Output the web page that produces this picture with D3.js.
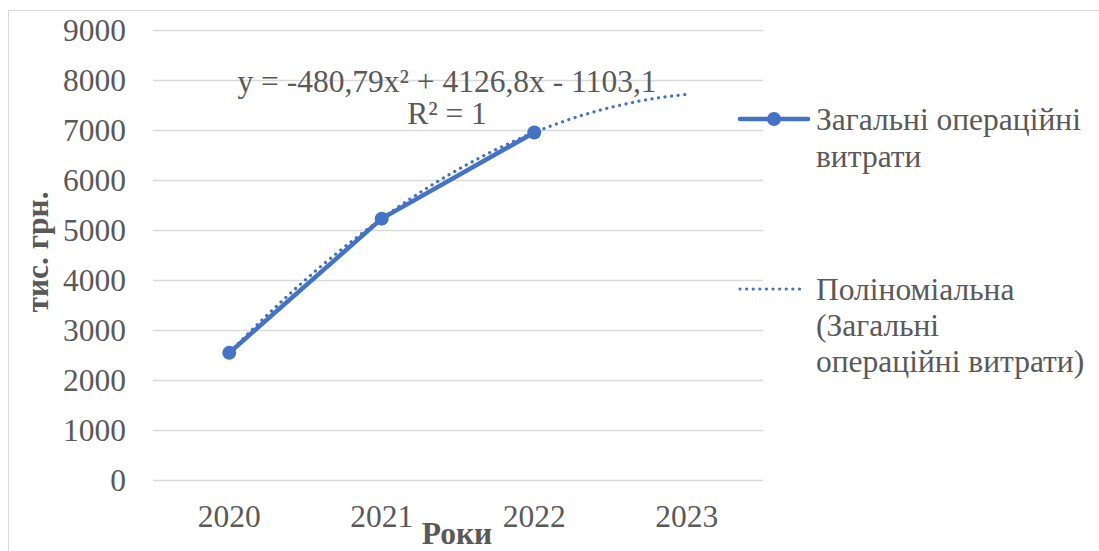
<!DOCTYPE html>
<html>
<head>
<meta charset="utf-8">
<script src="https://cdn.jsdelivr.net/npm/d3@7"></script>
<style>
  html, body { margin: 0; padding: 0; background: #fff; }
  svg { display: block; }
</style>
</head>
<body>
<svg id="chart" width="1099" height="551"></svg>
<script>
// Operating costs by year, thousand UAH
const years = ["2020", "2021", "2022", "2023"];
const costYears = ["2020", "2021", "2022"];
const costValues = [2543, 5227, 6950];
const yTicks = [0, 1000, 2000, 3000, 4000, 5000, 6000, 7000, 8000, 9000];
// Second-order polynomial trend: a*x^2 + b*x + c, x = 1..4
const trendCoef = [-480.79, 4126.8, -1103.1];
const trendLabel = "y = -480,79x² + 4126,8x - 1103,1";
const r2Label = "R² = 1";
const seriesName = ["Загальні операційні", "витрати"];
const trendName = ["Поліноміальна", "(Загальні", "операційні витрати)"];

const FONT = "'Liberation Serif', 'Times New Roman', serif";
const TXT = "#595959";
const FS = 31.5;
const svg = d3.select("#chart");
const blue = "#4472C4";

function label(sel) {
  return sel.style("font-family", FONT).attr("fill", TXT).attr("font-size", FS);
}

// chart area frame
svg.append("rect").attr("x", 8.5).attr("y", 10.5).attr("width", 1200).attr("height", 700)
  .attr("fill", "none").attr("stroke", "#d9d9d9").attr("stroke-width", 1);

const plot = { left: 153, right: 763, top: 30, bottom: 480 };

const x = d3.scaleBand().domain(years).range([plot.left, plot.right]);
const y = d3.scaleLinear().domain([0, 9000]).range([plot.bottom, plot.top]);

// gridlines
svg.append("g").selectAll("line").data(yTicks).join("line")
  .attr("x1", plot.left).attr("x2", plot.right)
  .attr("y1", d => Math.round(y(d)) + 0.5).attr("y2", d => Math.round(y(d)) + 0.5)
  .attr("stroke", "#d9d9d9").attr("stroke-width", 1.3);

// y axis labels
const yAxis = svg.append("g").attr("transform", `translate(${plot.left - 27},0)`)
  .call(d3.axisLeft(y).tickValues(yTicks).tickFormat(d3.format("d")).tickSize(0).tickPadding(0));
yAxis.attr("font-family", null);
yAxis.select(".domain").remove();
label(yAxis.selectAll("text")).attr("dy", "0.34em");

// x axis labels
const xAxis = svg.append("g").attr("transform", `translate(0,${plot.bottom})`)
  .call(d3.axisBottom(x).tickSize(0).tickPadding(0));
xAxis.attr("font-family", null);
xAxis.select(".domain").remove();
label(xAxis.selectAll("text")).attr("y", 47).attr("dy", 0);

// axis titles
label(svg.append("text")).attr("transform", "translate(48,252) rotate(-90)")
  .attr("text-anchor", "middle").attr("font-weight", "bold")
  .text("тис. грн.");
label(svg.append("text")).attr("x", 457).attr("y", 544)
  .attr("text-anchor", "middle").attr("font-weight", "bold")
  .text("Роки");

const cx = d => x(d) + x.bandwidth() / 2;

// data series line
const pts = costYears.map((yr, i) => [cx(yr), y(costValues[i])]);
svg.append("path").attr("d", d3.line()(pts))
  .attr("fill", "none").attr("stroke", blue).attr("stroke-width", 4.5)
  .attr("stroke-linejoin", "round").attr("stroke-linecap", "round");

// trendline (from the stated polynomial)
const xs = d3.scaleLinear().domain([1, 4]).range([cx(years[0]), cx(years[3])]);
const trendPts = d3.range(0, 61).map(i => {
  const t = 1 + i * 3 / 60;
  const v = trendCoef[0] * t * t + trendCoef[1] * t + trendCoef[2];
  return [xs(t), y(v)];
});
svg.append("path").attr("d", d3.line().curve(d3.curveCatmullRom)(trendPts))
  .attr("fill", "none").attr("stroke", blue).attr("stroke-width", 3.2)
  .attr("stroke-dasharray", "0.1 6.5").attr("stroke-linecap", "round");

// markers
svg.append("g").selectAll("circle").data(pts).join("circle")
  .attr("cx", d => d[0]).attr("cy", d => d[1]).attr("r", 7).attr("fill", blue);

// trendline equation
label(svg.append("text")).attr("x", 447).attr("y", 92).attr("text-anchor", "middle")
  .text(trendLabel);
label(svg.append("text")).attr("x", 447).attr("y", 124).attr("text-anchor", "middle")
  .text(r2Label);

// legend
const lg = svg.append("g");
lg.append("line").attr("x1", 740).attr("x2", 808).attr("y1", 119).attr("y2", 119)
  .attr("stroke", blue).attr("stroke-width", 4.5).attr("stroke-linecap", "round");
lg.append("circle").attr("cx", 774).attr("cy", 119).attr("r", 7).attr("fill", blue);
seriesName.forEach((s, i) => {
  label(lg.append("text")).attr("x", 816).attr("y", 130 + i * 37).text(s);
});
lg.append("line").attr("x1", 740).attr("x2", 806).attr("y1", 289).attr("y2", 289)
  .attr("stroke", blue).attr("stroke-width", 3.2)
  .attr("stroke-dasharray", "0.1 6.5").attr("stroke-linecap", "round");
trendName.forEach((s, i) => {
  label(lg.append("text")).attr("x", 816).attr("y", 300 + i * 36).text(s);
});
</script>
</body>
</html>
